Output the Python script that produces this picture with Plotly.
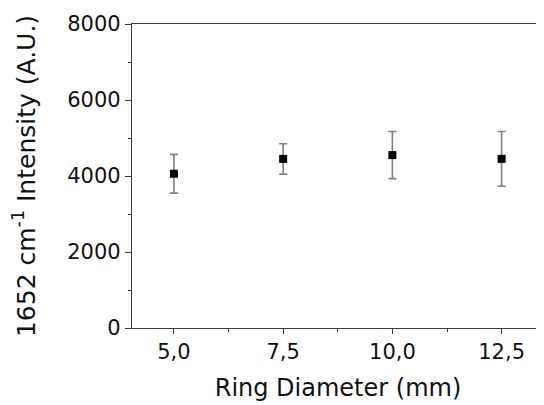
import plotly.graph_objects as go

ring_diameter = [5.0, 7.5, 10.0, 12.5]
intensity = [4060, 4450, 4550, 4450]
intensity_err = [510, 400, 620, 720]
x_tick_vals = [5.0, 7.5, 10.0, 12.5]
x_tick_text = ["5,0", "7,5", "10,0", "12,5"]
y_tick_vals = [0, 2000, 4000, 6000, 8000]

FONT = "DejaVu Sans, Liberation Sans, Arial, sans-serif"

fig = go.Figure()
fig.add_trace(go.Scatter(
    x=ring_diameter, y=intensity, mode="markers",
    marker=dict(symbol="square", size=8, color="black"),
    error_y=dict(type="data", array=intensity_err, visible=True,
                 color="#808080", thickness=1.6, width=4),
    showlegend=False,
))

axis_common = dict(
    showgrid=False, zeroline=False, showline=True, linecolor="#3a3a3a",
    linewidth=1.3, ticks="outside", tickcolor="#3a3a3a", tickwidth=1.3,
    tickfont=dict(family=FONT, size=21, color="#111111"),
)

fig.update_xaxes(
    **axis_common, mirror=True, range=[4.04, 13.47],
    tickmode="array", tickvals=x_tick_vals, ticktext=x_tick_text, ticklen=5,
    minor=dict(tickmode="linear", tick0=5.0, dtick=1.25, ticks="outside",
               ticklen=3, tickcolor="#3a3a3a", tickwidth=1.2),
    title=dict(text="Ring Diameter (mm)", font=dict(family=FONT, size=24, color="#111111"),
               standoff=15),
)
fig.update_yaxes(
    **axis_common, range=[0, 8000], tickmode="array", tickvals=y_tick_vals, ticklen=6,
    minor=dict(tickmode="linear", tick0=1000, dtick=2000, ticks="outside",
               ticklen=3, tickcolor="#3a3a3a", tickwidth=1.2),
    title=dict(text="1652 cm<sup>-1</sup> Intensity (A.U.)",
               font=dict(family=FONT, size=25, color="#111111"), standoff=28),
)

fig.update_layout(
    width=536, height=397,
    margin=dict(l=124, r=0, t=16, b=77, autoexpand=False),
    plot_bgcolor="white", paper_bgcolor="white",
)

fig.write_html("out.html")
